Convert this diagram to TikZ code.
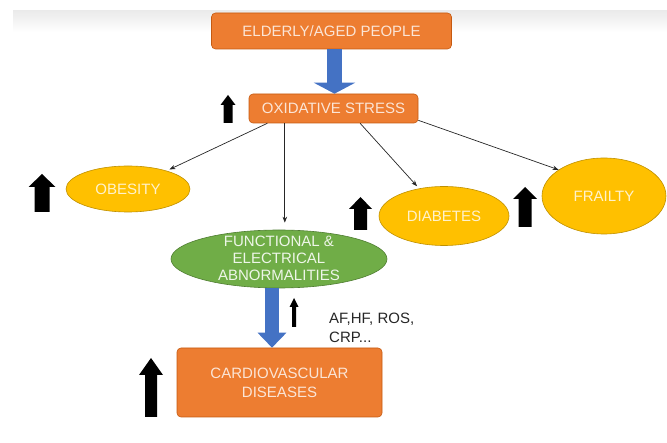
\documentclass[tikz,border=0pt]{standalone}
\usepackage{fontspec}
\setmainfont{Liberation Sans}
\usetikzlibrary{arrows.meta,shapes.geometric,calc}
\definecolor{orF}{HTML}{ED7D31}
\definecolor{orD}{HTML}{C55A11}
\definecolor{orT}{HTML}{FBE5D6}
\definecolor{yeF}{HTML}{FFC000}
\definecolor{yeD}{HTML}{BF9000}
\definecolor{yeT}{HTML}{FFF2CC}
\definecolor{grF}{HTML}{70AD47}
\definecolor{grD}{HTML}{507E32}
\definecolor{grT}{HTML}{EEF6E8}
\definecolor{blA}{HTML}{4472C4}
\newcommand{\UpArr}[6]{%
  \fill[black] (#1-#4/2,#3) -- (#1+#4/2,#3) -- (#1+#4/2,#2+#6) -- (#1+#5/2,#2+#6)
    -- (#1,#2) -- (#1-#5/2,#2+#6) -- (#1-#4/2,#2+#6) -- cycle;}
\begin{document}
\begin{tikzpicture}[x=1pt,y=-1pt,
  txt/.style={font=\fontsize{15}{17}\selectfont},
  obox/.style={txt, draw=orD, line width=0.6pt, fill=orF, text=orT, rounded corners=4pt, inner sep=0pt, align=center},
  yell/.style={txt, ellipse, draw=yeD, line width=0.6pt, fill=yeF, text=yeT, inner sep=0pt},
  gell/.style={ellipse, draw=grD, line width=0.6pt, fill=grF, inner sep=0pt},
  thinarr/.style={line width=0.7pt, black!85, -{Stealth[length=6pt,width=4.5pt]}},
  blockarr/.style={blA}
]
\useasboundingbox (0,0) rectangle (667,443);
\fill[top color=black!8, bottom color=white] (13,11) rectangle (667,32);

% nodes
\node[obox, minimum width=240pt, minimum height=36pt] (eld) at (331.5,31) {ELDERLY/AGED PEOPLE};
\node[obox, minimum width=169pt, minimum height=29pt] (oxi) at (333.5,108.5) {OXIDATIVE STRESS};
\node[yell, minimum width=124pt, minimum height=46pt] (obe) at (128,189) {OBESITY};
\node[yell, minimum width=130pt, minimum height=59pt] (dia) at (444,216) {DIABETES};
\node[yell, minimum width=124pt, minimum height=76pt] (frl) at (604,196) {FRAILTY};
\node[gell, minimum width=216pt, minimum height=58pt] (fun) at (279,259) {};
\node[txt, text=grT, align=center, inner sep=0pt] (funt) at (279,258) {FUNCTIONAL \&\\ELECTRICAL\\ABNORMALITIES};
\node[obox, minimum width=205pt, minimum height=69pt, font=\fontsize{15}{19}\selectfont] (cvd) at (279.5,382.5) {CARDIOVASCULAR\\DISEASES};
\node[font=\fontsize{15}{19}\selectfont, text=black!85, anchor=west, align=left, inner sep=0pt] (af) at (329,327.5) {AF,HF, ROS,\\CRP...};

% block arrows
\coordinate (b1s) at ($(eld.south)+(3,0)$);
\coordinate (b1e) at (b1s |- oxi.north);
\draw[blockarr, line width=15pt, -{Triangle[width=41pt,length=11pt]}] (b1s) -- (b1e);
\coordinate (b2s) at ($(fun.south)+(-7,0)$);
\coordinate (b2e) at (b2s |- cvd.north);
\draw[blockarr, line width=14pt, -{Triangle[width=28pt,length=15pt]}] (b2s) -- (b2e);

% thin connectors
\coordinate (s1) at ($(oxi.south west)!0.11!(oxi.south east)$);
\coordinate (s2) at ($(oxi.south west)!0.213!(oxi.south east)$);
\coordinate (s3) at ($(oxi.south west)!0.657!(oxi.south east)$);
\coordinate (s4) at ($(oxi.south east)+(0,-3)$);
\draw[thinarr, shorten >=3pt] (s1) -- (obe);
\draw[thinarr, shorten >=7pt] (s2) -- (s2 |- fun.north);
\draw[thinarr, shorten >=3pt] (s3) -- (dia);
\draw[thinarr] (s4) -- (frl.150);

% decorative up arrows
\UpArr{228}{95}{123}{9}{15}{10}
\UpArr{42}{174}{212}{15}{27}{13}
\UpArr{360.5}{197}{230}{13}{23}{12}
\UpArr{525}{187}{227}{13}{24}{12}
\UpArr{294}{298}{327}{4}{9}{9}
\UpArr{151}{358}{417}{12}{24}{17}
\end{tikzpicture}
\end{document}
